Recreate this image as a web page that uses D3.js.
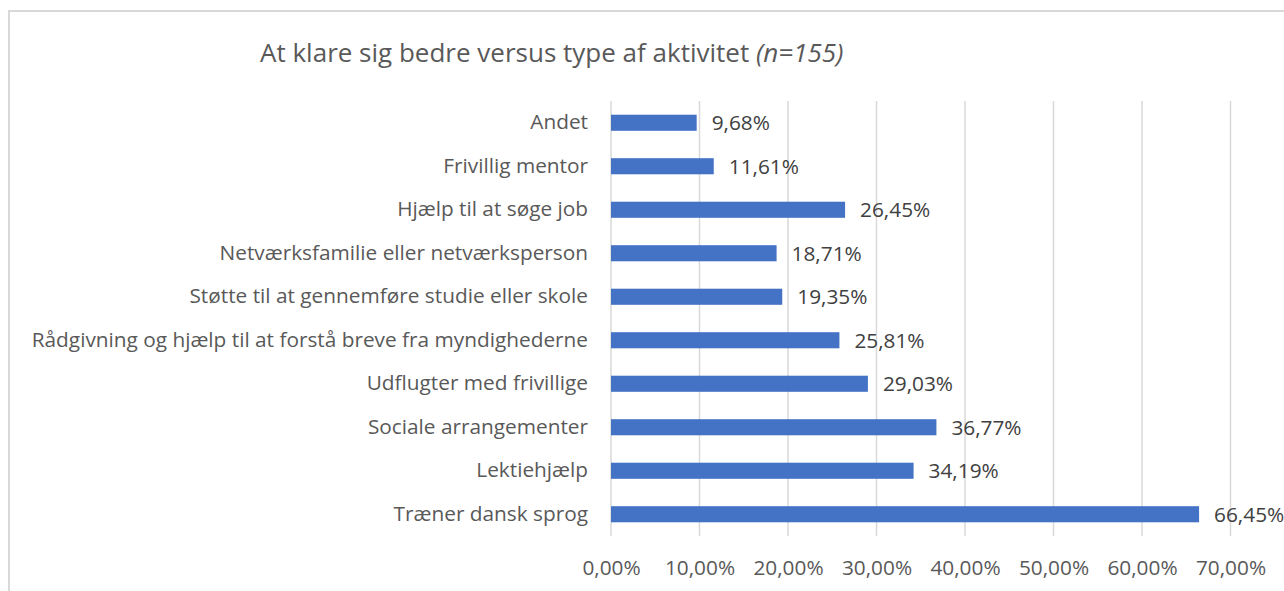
<!DOCTYPE html>
<html>
<head>
<meta charset="utf-8">
<script src="https://cdn.jsdelivr.net/npm/d3@7"></script>
<style>
  body { margin: 0; background: #fff; }
  text { font-family: "Open Sans", Lato, sans-serif; }
</style>
</head>
<body>
<script>
// Chart values (top to bottom)
var categories = [
    "Andet",
    "Frivillig mentor",
    "Hjælp til at søge job",
    "Netværksfamilie eller netværksperson",
    "Støtte til at gennemføre studie eller skole",
    "Rådgivning og hjælp til at forstå breve fra myndighederne",
    "Udflugter med frivillige",
    "Sociale arrangementer",
    "Lektiehjælp",
    "Træner dansk sprog"
];
var values = [9.68, 11.61, 26.45, 18.71, 19.35, 25.81, 29.03, 36.77, 34.19, 66.45];
var tickValues = [0, 10, 20, 30, 40, 50, 60, 70];
var titleText = "At klare sig bedre versus type af aktivitet";
var titleNote = "(n=155)";

var width = 1284, height = 591;
var margin = { top: 101, right: 53, bottom: 55, left: 611 };
var fontSize = "20.8px";

var svg = d3.select("body").append("svg")
    .attr("width", width)
    .attr("height", height);

// chart frame (cropped on right and bottom)
svg.append("rect")
    .attr("x", 9)
    .attr("y", 11)
    .attr("width", width + 20)
    .attr("height", height + 20)
    .attr("fill", "none")
    .attr("stroke", "#d9d9d9")
    .attr("stroke-width", 2);

var pct = function (v) { return d3.format(".2f")(v).replace(".", ",") + "%"; };

var xScale = d3.scaleLinear()
    .domain([0, 70])
    .range([margin.left, 1230.5]);

var yScale = d3.scaleBand()
    .domain(categories)
    .range([margin.top, height - margin.bottom])
    .paddingInner(0.63)
    .paddingOuter(0.315);

// vertical gridlines
svg.append("g")
    .selectAll("line")
    .data(tickValues)
    .enter()
    .append("line")
    .attr("x1", d => xScale(d))
    .attr("x2", d => xScale(d))
    .attr("y1", margin.top)
    .attr("y2", height - margin.bottom)
    .attr("stroke", "#d9d9d9")
    .attr("stroke-width", 1.5);

// x axis tick labels
var xAxis = d3.axisBottom(xScale)
    .tickValues(tickValues)
    .tickSize(0)
    .tickPadding(0)
    .tickFormat(pct);
svg.append("g")
    .attr("transform", "translate(0," + (height - margin.bottom) + ")")
    .call(xAxis)
    .call(g => g.select(".domain").remove())
    .call(g => g.selectAll("text")
        .attr("y", 32)
        .attr("dy", "0.35em")
        .attr("font-size", fontSize)
        .attr("fill", "#595959")
        .style("font-family", "'Open Sans', sans-serif"));

// y axis category labels
var yAxis = d3.axisLeft(yScale)
    .tickSize(0)
    .tickPadding(23);
svg.append("g")
    .attr("transform", "translate(" + margin.left + ",0)")
    .call(yAxis)
    .call(g => g.select(".domain").remove())
    .call(g => g.selectAll("text")
        .attr("font-size", fontSize)
        .attr("fill", "#595959")
        .style("font-family", "'Open Sans', sans-serif"));

// bars
svg.append("g")
    .selectAll("rect")
    .data(values)
    .enter()
    .append("rect")
    .attr("x", xScale(0))
    .attr("y", (d, i) => yScale(categories[i]))
    .attr("width", d => xScale(d) - xScale(0))
    .attr("height", yScale.bandwidth())
    .attr("fill", "#4472c4");

// value labels
svg.append("g")
    .selectAll("text")
    .data(values)
    .enter()
    .append("text")
    .attr("x", d => xScale(d) + 15)
    .attr("y", (d, i) => yScale(categories[i]) + yScale.bandwidth() / 2)
    .attr("dy", "0.37em")
    .attr("font-size", fontSize)
    .attr("fill", "#404040")
    .text(d => pct(d));

// title
var title = svg.append("text")
    .attr("x", 260)
    .attr("y", 62)
    .attr("font-size", "26px")
    .attr("fill", "#595959");
title.append("tspan").text(titleText + " ");
title.append("tspan").attr("font-style", "italic").text(titleNote);
</script>
</body>
</html>
